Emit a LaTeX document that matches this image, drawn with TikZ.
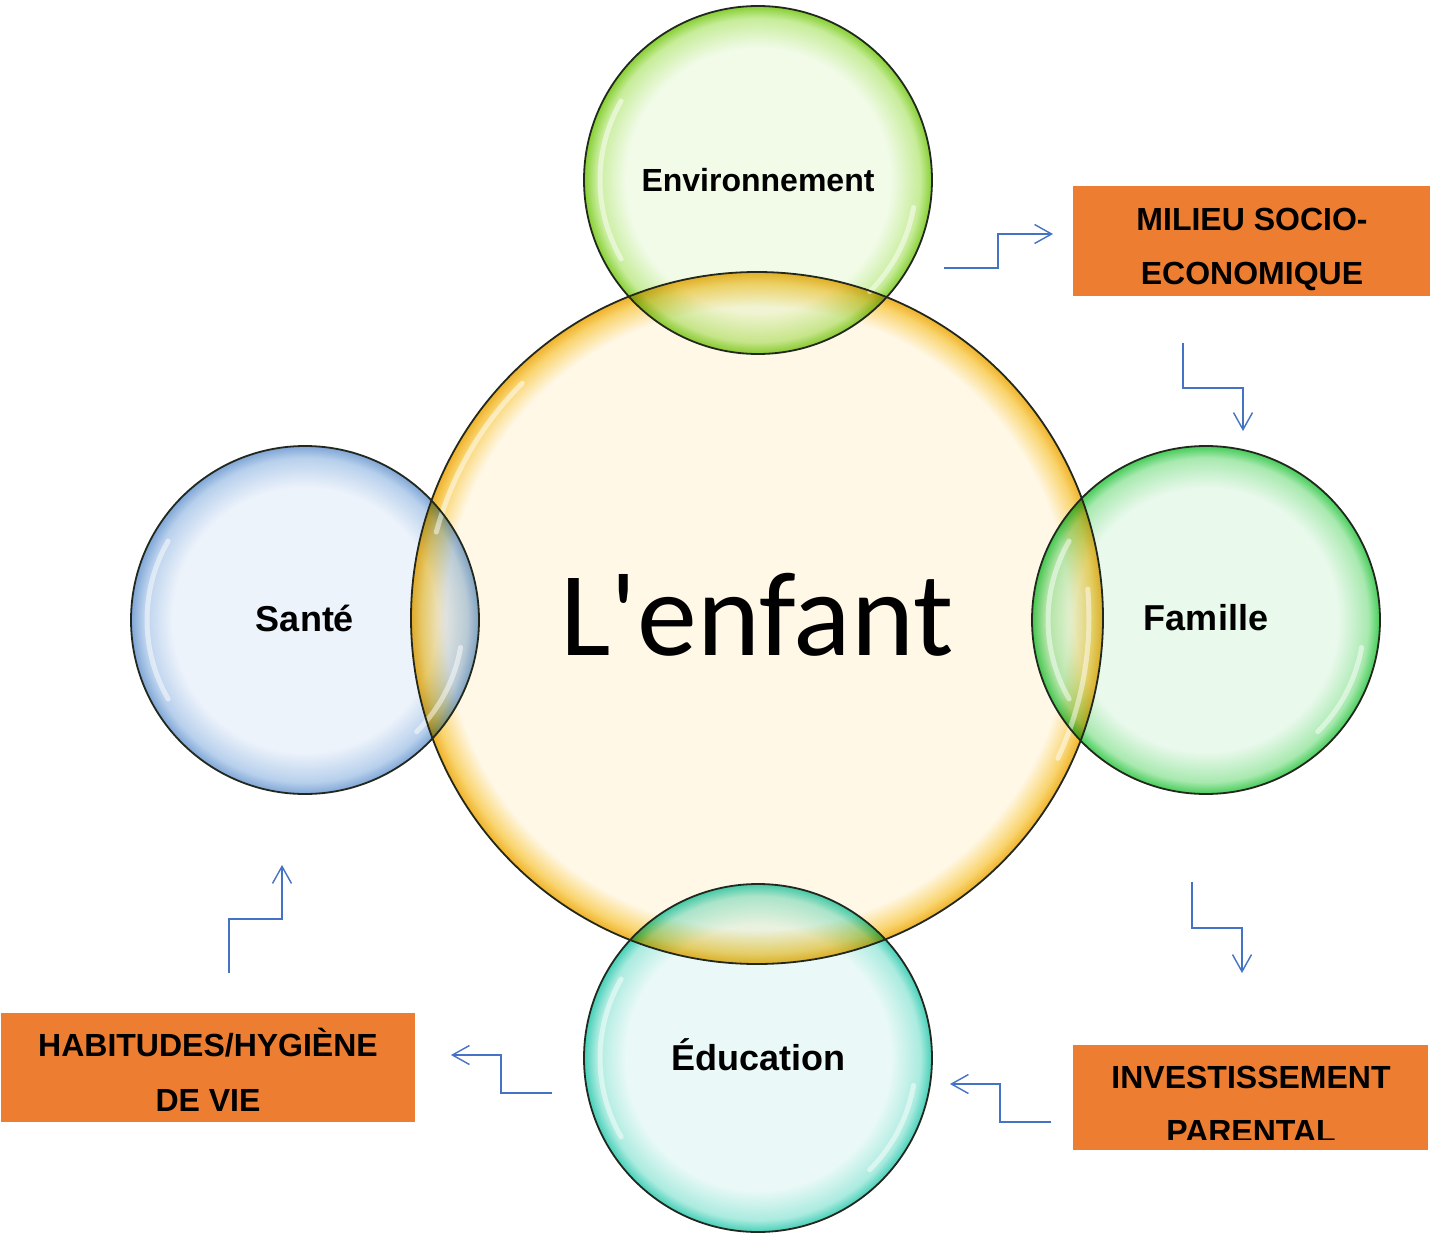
\documentclass[tikz,border=0pt]{standalone}
\usepackage{fontspec}
\setmainfont{Liberation Sans}
\newfontfamily\calibfont{Carlito}
\usetikzlibrary{arrows.meta}
\definecolor{bubin}{HTML}{FFFFFF}
\definecolor{bubmid}{HTML}{FFFFFF}
\definecolor{bubout}{HTML}{FFFFFF}
\definecolor{boxorange}{HTML}{ED7D31}
\definecolor{arrowblue}{HTML}{4472C4}
\definecolor{rimdark}{HTML}{22281E}
\pgfdeclareradialshading[bubin,bubmid,bubout]{smallbubble}{\pgfpoint{0bp}{0bp}}{color(0bp)=(bubin); color(19bp)=(bubin); color(23.3bp)=(bubmid); color(25bp)=(bubout); color(50bp)=(bubout)}
\pgfdeclareradialshading[bubin,bubmid,bubout]{bigbubble}{\pgfpoint{0bp}{0bp}}{color(0bp)=(bubin); color(22.5bp)=(bubin); color(24.2bp)=(bubmid); color(25bp)=(bubout); color(50bp)=(bubout)}
\tikzset{
  bcol/.style n args={3}{/utils/exec={\definecolor{bubin}{HTML}{#1}\definecolor{bubmid}{HTML}{#2}\definecolor{bubout}{HTML}{#3}}},
  rim/.style={draw=rimdark, line width=1.8pt},
  gloss/.style={draw=white, line width=5pt, opacity=0.5, line cap=round},
  clabel/.style={font=\fontsize{36}{42}\selectfont\bfseries, inner sep=0pt},
  blabel/.style={font=\fontsize{32}{38}\selectfont\bfseries, inner sep=0pt, anchor=base},
  obox/.style={fill=boxorange, draw=none, inner sep=0pt},
  conn/.style={draw=arrowblue, line width=1.4pt, -{Straight Barb[length=17pt,width=19pt]}},
}
\begin{document}
\begin{tikzpicture}[x=1pt,y=-1pt]
\fill[white] (0,0) rectangle (1430,1236);
\path[use as bounding box] (0,0) rectangle (1430,1236);
\coordinate (cen) at (757,618);
\coordinate (envc) at (758,180);
\coordinate (sanc) at (305,620);
\coordinate (famc) at (1206,620);
\coordinate (educ) at (758,1058);
% central bubble
\shade[bcol={FFF8E7}{F9D46E}{EFB22A}, shading=bigbubble] (cen) circle[radius=346];
% outer bubbles
\begin{scope}[blend mode=multiply]
\shade[bcol={F1FBE8}{C6EC98}{86CF33}, shading=smallbubble] (envc) circle[radius=174];
\shade[bcol={EDF3FB}{B8D0EC}{7FA6D6}, shading=smallbubble] (sanc) circle[radius=174];
\shade[bcol={E9F9EC}{A8E9AF}{45CC58}, shading=smallbubble] (famc) circle[radius=174];
\shade[bcol={EAF9F7}{AAEBDF}{45CFB8}, shading=smallbubble] (educ) circle[radius=174];
\end{scope}
% gloss highlights
\foreach \c in {envc,sanc,famc,educ}{
  \draw[gloss] (\c) ++(150:158) arc[start angle=150,end angle=210,radius=158];
  \draw[gloss] (\c) ++(10:158) arc[start angle=10,end angle=45,radius=158];
}
\draw[gloss] (cen) ++(195:332) arc[start angle=195,end angle=225,radius=332];
\draw[gloss] (cen) ++(-5:332) arc[start angle=-5,end angle=25,radius=332];
% outlines
\draw[rim] (cen) circle[radius=346];
\draw[rim] (envc) circle[radius=174];
\draw[rim] (sanc) circle[radius=174];
\draw[rim] (famc) circle[radius=174];
\draw[rim] (educ) circle[radius=174];
% labels
\node[inner sep=0pt, anchor=base, font=\calibfont\fontsize{120}{130}\selectfont] (enfant) at (757,655) {L'enfant};
\node[inner sep=0pt, font=\fontsize{32}{38}\selectfont\bfseries] (envt) at (758,180) {Environnement};
\node[clabel] (sant) at (305,618) {Santé};
\node[clabel] (famt) at (1206,618) {Famille};
\node[clabel] (edut) at (758,1055) {Éducation};
% orange boxes
\node[obox, minimum width=357pt, minimum height=110pt] (milieu) at (1251.5,241) {};
\node[blabel] (milieu1) at (1252,230) {MILIEU SOCIO-};
\node[blabel] (milieu2) at (1252,284) {ECONOMIQUE};
\node[obox, minimum width=355pt, minimum height=105pt] (invest) at (1250.5,1097.5) {};
\node[blabel] (invest1) at (1251,1088) {INVESTISSEMENT};
\begin{scope}
\clip (1073,1045) rectangle (1428,1139);
\node[blabel] (invest2) at (1251,1142) {PARENTAL};
\end{scope}
\node[obox, minimum width=414pt, minimum height=109pt] (habit) at (208,1067.5) {};
\node[blabel] (habit1) at (208,1056) {HABITUDES/HYGIÈNE};
\node[blabel] (habit2) at (208,1111) {DE VIE};
% connectors
\coordinate (a1s) at (944,268);  \coordinate (a1e) at (1053,234);
\coordinate (a2s) at (1183,343); \coordinate (a2e) at (1243,431);
\coordinate (a3s) at (1192,882); \coordinate (a3e) at (1242,973);
\coordinate (a4s) at (1051,1122); \coordinate (a4e) at (950,1084);
\coordinate (a5s) at (552,1093); \coordinate (a5e) at (451,1055);
\coordinate (a6s) at (229,973);  \coordinate (a6e) at (282,865);
\draw[conn] (a1s) -- (998,268) |- (a1e);
\draw[conn] (a2s) |- (1243,388) -- (a2e);
\draw[conn] (a3s) |- (1242,928) -- (a3e);
\draw[conn] (a4s) -- (1000,1122) |- (a4e);
\draw[conn] (a5s) -- (501,1093) |- (a5e);
\draw[conn] (a6s) |- (282,919) -- (a6e);
\end{tikzpicture}
\end{document}
